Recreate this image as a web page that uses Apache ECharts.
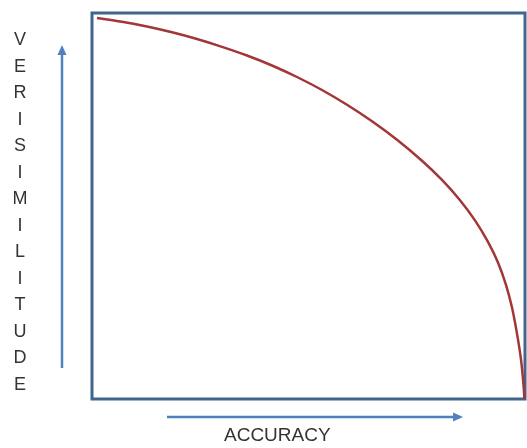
<!DOCTYPE html>
<html>
<head>
<meta charset="utf-8">
<script src="https://cdn.jsdelivr.net/npm/echarts@6/dist/echarts.min.js"></script>
<style>
html,body{margin:0;padding:0;background:#fff;}
#chart{width:527px;height:448px;}
</style>
</head>
<body>
<div id="chart"></div>
<script>
// Accuracy (x) vs verisimilitude (y), 0-100 scale
const accuracy = [1.15, 6.93, 12.70, 18.48, 24.25, 30.02, 35.80, 41.57, 47.34, 53.12, 58.89, 64.67, 70.44,
                  76.21, 80.83, 84.99, 88.45, 91.45, 93.76, 95.61, 97.00, 98.15, 99.08, 99.65, 99.88];
const verisimilitude = [98.70, 97.72, 96.50, 95.00, 93.26, 91.24, 88.99, 86.40, 83.42, 80.05, 76.22, 71.94, 67.15,
                        61.71, 56.74, 51.50, 46.27, 40.70, 35.39, 29.59, 23.68, 16.94, 10.21, 3.73, 0];
const xTitle = 'ACCURACY';
const yTitle = 'VERISIMILITUDE';

const chart = echarts.init(document.getElementById('chart'), null, {renderer: 'canvas'});
const data = accuracy.map((x, i) => [x, verisimilitude[i]]);
const arrowColor = '#4f81bd';
const font = '"Liberation Sans", Arial, sans-serif';

chart.setOption({
  animation: false,
  backgroundColor: '#ffffff',
  grid: {left: 92, top: 13, right: 2, bottom: 49, show: true, borderColor: '#41658c', borderWidth: 3, backgroundColor: '#ffffff'},
  xAxis: {type: 'value', min: 0, max: 100, axisLine: {show: false}, axisTick: {show: false}, axisLabel: {show: false}, splitLine: {show: false}},
  yAxis: {type: 'value', min: 0, max: 100, axisLine: {show: false}, axisTick: {show: false}, axisLabel: {show: false}, splitLine: {show: false}},
  series: [{
    type: 'line',
    data: data,
    smooth: 0.25,
    showSymbol: false,
    lineStyle: {color: '#a33636', width: 2.5}
  }],
  graphic: [
    {type: 'text', left: 224, top: 426, style: {text: xTitle, font: '19px ' + font, fill: '#333333'}},
    {type: 'text', x: 20, y: 27, style: {text: yTitle.split('').join('\n'), font: '18px ' + font, lineHeight: 26.5, align: 'center', fill: '#333333'}},
    {type: 'line', shape: {x1: 62, y1: 368, x2: 62, y2: 53}, style: {stroke: arrowColor, lineWidth: 2.5}},
    {type: 'polygon', shape: {points: [[62, 45], [57.5, 55], [66.5, 55]]}, style: {fill: arrowColor}},
    {type: 'line', shape: {x1: 167, y1: 417, x2: 454, y2: 417}, style: {stroke: arrowColor, lineWidth: 2.5}},
    {type: 'polygon', shape: {points: [[463, 417], [453, 412.5], [453, 421.5]]}, style: {fill: arrowColor}}
  ]
});
</script>
</body>
</html>
